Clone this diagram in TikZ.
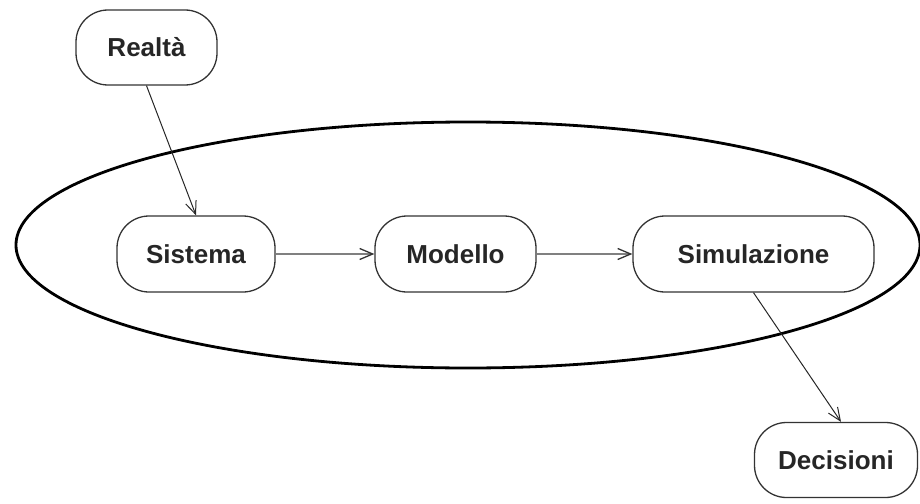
\documentclass[tikz,border=0pt]{standalone}
\usepackage{fontspec}
\setmainfont{Liberation Sans}
\usetikzlibrary{arrows.meta}
\begin{document}
\begin{tikzpicture}[x=1pt,y=-1pt,
  box/.style={draw=black!80, line width=1.3pt, rounded corners=32pt, inner sep=0pt,
    font=\fontsize{26}{30}\selectfont\bfseries, text=black!85},
  arr/.style={line width=1pt, draw=black!85, -{Straight Barb[length=13pt,width=11pt,line width=1pt]}},
  harr/.style={line width=2pt, draw=black!50, -{Straight Barb[length=13pt,width=11pt,line width=1.3pt,color=black!80]}}]
\useasboundingbox (0,0) rectangle (920,503);
\draw[line width=2.8pt] (468,245) ellipse [x radius=452, y radius=123];
\node[box, minimum width=141pt, minimum height=75pt] (realta) at (146.5,47.5) {Realtà};
\node[box, minimum width=158pt, minimum height=76pt] (sistema) at (196,254) {Sistema};
\node[box, minimum width=161pt, minimum height=76pt] (modello) at (455.5,254) {Modello};
\node[box, minimum width=241pt, minimum height=76pt] (simul) at (753.5,254) {Simulazione};
\node[box, minimum width=163pt, minimum height=75pt] (decis) at (836,460) {Decisioni};
\draw[arr] (realta.south) -- (sistema.north);
\draw[harr] (sistema.east) -- (modello.west);
\draw[harr] (modello.east) -- (simul.west);
\draw[arr] (simul.south) -- ([xshift=5pt]decis.north);
\end{tikzpicture}
\end{document}
